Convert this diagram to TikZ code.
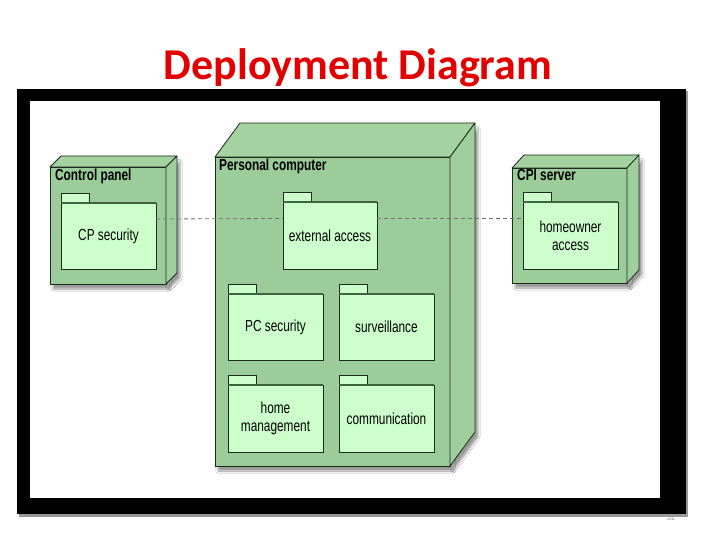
\documentclass[tikz,border=0pt]{standalone}
\usepackage{fontspec}
\setmainfont{Liberation Sans}[FakeStretch=0.74]
\newfontfamily\titlefont{Carlito}
\usetikzlibrary{positioning, calc, shadows.blur}
\definecolor{colTitle}{RGB}{226,0,0}
\definecolor{colFront}{RGB}{156,204,154}
\definecolor{colTop}{RGB}{164,210,161}
\definecolor{colSide}{RGB}{158,206,156}
\definecolor{colPkg}{RGB}{204,255,204}
\definecolor{colEdge}{RGB}{28,44,28}
\definecolor{colPkgTop}{RGB}{62,100,62}
\definecolor{colLink}{RGB}{110,110,110}

\begin{document}
\begin{tikzpicture}[
  x=1pt, y=-1pt,
  node distance=16pt and 16pt,
  device/.style={rectangle, draw=colEdge, fill=colFront, line width=0.8pt,
                 outer sep=0pt, inner sep=0pt, anchor=north west,
                 blur shadow={shadow xshift=3pt, shadow yshift=-5pt}},
  devtop/.style={draw=colEdge, fill=colTop, line width=0.8pt, line join=round},
  devside/.style={draw=colEdge, fill=colSide, line width=0.8pt, line join=round,
                  blur shadow={shadow xshift=3pt, shadow yshift=-5pt}},
  devlabel/.style={anchor=base west, inner sep=0pt, font=\fontsize{16}{18}\selectfont\bfseries},
  pkg/.style={rectangle, draw=colEdge, fill=colPkg, line width=0.6pt, minimum width=95pt,
              minimum height=66pt, outer sep=0pt, inner sep=2pt, align=center,
              font=\fontsize{16}{18}\selectfont},
  pkgtab/.style={rectangle, draw=colEdge, fill=colPkg, line width=0.6pt, minimum width=28pt,
                 minimum height=10pt, inner sep=0pt, outer sep=0pt, anchor=south west},
  pkgtop/.style={colPkgTop, line width=1.4pt},
  link/.style={colLink, line width=0.8pt, dash pattern=on 4pt off 3pt},
]
\useasboundingbox (0,0) rectangle (720,540);
\fill[white] (0,0) rectangle (720,540);

% Slide frame
\node[font=\fontsize{10}{12}\selectfont, text=gray!70, anchor=base] (pagenum) at (671,520) {32};
\fill[gray!80] (19,91) rectangle (688,517);
\fill[black] (17,89) rectangle (686,514);
\fill[white] (30,101) rectangle (660,498);

\node[font=\titlefont\fontsize{44}{48}\selectfont\bfseries, text=colTitle, anchor=base] (title) at (358,80) {Deployment Diagram};

% Devices
\node[device, minimum width=116pt, minimum height=117pt] (ctrl) at (50,167) {};
\node[device, minimum width=235pt, minimum height=309pt] (pc) at (215,157) {};
\node[device, minimum width=115pt, minimum height=115pt] (cpi) at (512,168) {};

\foreach \dev/\dx/\dy in {ctrl/11/-11, pc/25/-34, cpi/12/-13} {
  \draw[devtop] (\dev.north west) -- ++(\dx,\dy) -- ([shift={(\dx,\dy)}]\dev.north east) -- (\dev.north east) -- cycle;
  \draw[devside] (\dev.north east) -- ++(\dx,\dy) -- ([shift={(\dx,\dy)}]\dev.south east) -- (\dev.south east) -- cycle;
}

\node[devlabel] (ctrl label) at (55,181) {Control panel};
\node[devlabel] (pc label) at (219,171) {Personal computer};
\node[devlabel] (cpi label) at (517,181) {CPI server};

% Packages
\node[pkg, anchor=north west] (cpsec) at (61,203) {CP security};
\node[pkg, anchor=north west, minimum width=94pt, minimum height=67pt] (extacc) at (283,202) {external access};
\node[pkg, anchor=north west, minimum height=67pt] (homeacc) at (523,202) {homeowner\\access};
\node[pkg, anchor=north west] (pcsec) at (228,294) {PC security};
\node[pkg, right=of pcsec] (surv) {surveillance};
\node[pkg, below=25pt of pcsec, minimum height=67pt] (homemgmt) {home\\management};
\node[pkg, right=of homemgmt, minimum height=67pt] (comm) {communication};

\foreach \p in {cpsec, extacc, homeacc, pcsec, surv, homemgmt, comm} {
  \node[pkgtab] (\p tab) at (\p.north west) {};
  \draw[pkgtop] (\p.north west) -- (\p.north east);
}

% Connections
\draw[link] ([yshift=17pt]cpsec.east) -- ([yshift=17pt]extacc.west);
\draw[link] ([yshift=17pt]extacc.east) -- ([yshift=17pt]homeacc.west);

\end{tikzpicture}
\end{document}
